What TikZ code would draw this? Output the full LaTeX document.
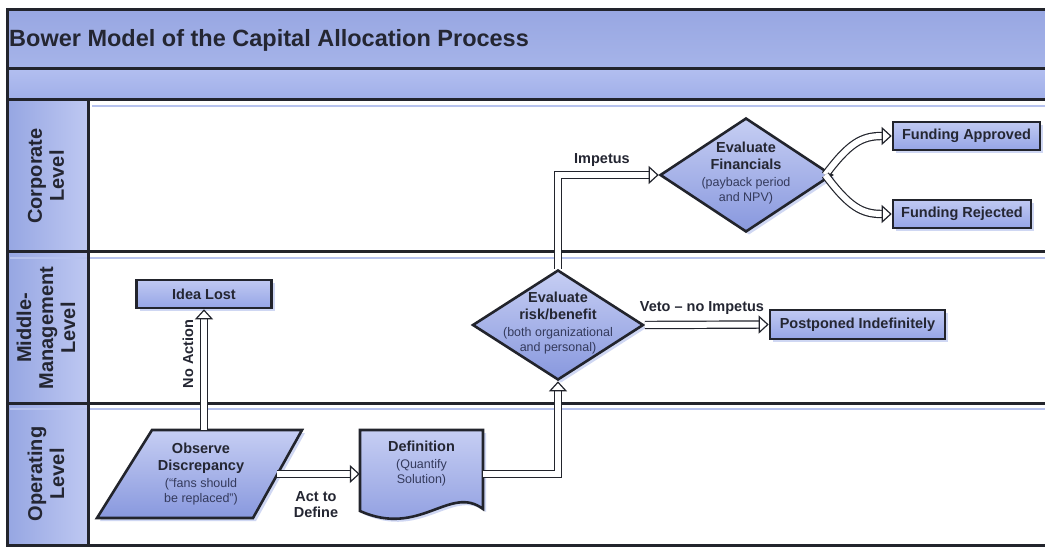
\documentclass[tikz,border=0pt]{standalone}
\usepackage{fontspec}
\setmainfont{Liberation Sans}
\usetikzlibrary{arrows.meta,shapes.geometric,shadows}

\definecolor{frameC}{RGB}{34,36,44}
\definecolor{inkC}{RGB}{36,38,50}
\definecolor{subInk}{RGB}{52,58,92}
\definecolor{nodeTop}{RGB}{198,206,243}
\definecolor{nodeBot}{RGB}{136,152,222}
\definecolor{boxTop}{RGB}{192,201,242}
\definecolor{boxBot}{RGB}{150,165,230}
\definecolor{bandTop}{RGB}{152,167,226}
\definecolor{bandMid}{RGB}{184,195,240}
\definecolor{bandBot}{RGB}{166,180,233}
\definecolor{subTop}{RGB}{178,190,240}
\definecolor{subBot}{RGB}{160,175,232}
\definecolor{laneL}{RGB}{150,166,226}
\definecolor{laneR}{RGB}{190,200,242}
\definecolor{ruleC}{RGB}{182,194,238}
\definecolor{shadowC}{RGB}{196,205,240}

\newcommand\boldtxt{\fontsize{14.5}{17}\selectfont\bfseries}
\newcommand\smalltxt{\fontsize{12.5}{15}\selectfont\mdseries\color{subInk}}

\begin{document}
\begin{tikzpicture}[x=1pt,y=-1pt,
  frame/.style={draw=frameC, line width=3pt},
  softrule/.style={draw=ruleC, line width=1.6pt},
  blueshadow/.style={drop shadow={shadow xshift=3pt, shadow yshift=-3pt, fill=shadowC, opacity=0.8}},
  shapebox/.style={draw=frameC, line width=2.6pt, line join=miter, top color=nodeTop, bottom color=nodeBot, blueshadow},
  endbox/.style={draw=frameC, line width=2.6pt, top color=boxTop, bottom color=boxBot, blueshadow,
    inner sep=0pt, font=\boldtxt, text=inkC},
  dshape/.style={shapebox, diamond, inner sep=0pt},
  ghost/.style={inner sep=0pt, align=center, font=\boldtxt, text=inkC},
  lbl/.style={inner sep=1pt, font=\boldtxt, text=inkC},
  lane/.style={inner sep=0pt, align=center, rotate=90, text=inkC,
    font=\fontsize{20}{22}\selectfont\bfseries},
  hollow/.style={draw=frameC, line width=1.2pt, double=white, double distance=6pt,
    -{Triangle[fill=white, length=10pt, width=18pt, line width=1.2pt]}}
]
\useasboundingbox (0,0) rectangle (1045,548);
\fill[white] (0,0) rectangle (1045,548);

% header bands and lane label column
\shade[top color=bandTop, middle color=bandMid, bottom color=bandBot] (7,10) rectangle (1045,69);
\shade[top color=subTop, bottom color=subBot] (7,69) rectangle (1045,100);
\shade[left color=laneL, right color=laneR] (7,100) rectangle (88,545);

% faint rules under the lane dividers
\draw[softrule] (92,106) -- (1045,106);
\draw[softrule] (10,258) -- (1045,258);
\draw[softrule] (10,409) -- (1045,409);

% frame
\draw[frame] (1045,10) -- (7,10) -- (7,545) -- (1045,545);
\draw[frame] (7,69) -- (1045,69);
\draw[frame] (7,100) -- (1045,100);
\draw[frame] (7,252) -- (1045,252);
\draw[frame] (7,403) -- (1045,403);
\draw[frame] (88,100) -- (88,545);

% title and lane names
\node[anchor=west, inner sep=0pt, text=inkC, font=\fontsize{23.5}{27}\selectfont\bfseries]
  (title) at (9,40) {Bower Model of the Capital Allocation Process};
\node[lane] (lcorp) at (46,176) {Corporate\\Level};
\node[lane] (lmid) at (46,328) {Middle-\\Management\\Level};
\node[lane] (lop) at (46,474) {Operating\\Level};

% outcome boxes
\node[endbox, minimum width=135, minimum height=28] (idea) at (204,294) {Idea Lost};
\node[endbox, minimum width=175, minimum height=29] (post) at (857.5,324.5) {Postponed Indefinitely};
\node[endbox, minimum width=147, minimum height=28] (appr) at (966.5,136) {Funding Approved};
\node[endbox, minimum width=138, minimum height=28] (rej) at (962,214) {Funding Rejected};

% observe discrepancy (parallelogram)
\path[shapebox] (152,430) -- (302,430) -- (253,518) -- (97,518) -- cycle;
\node[ghost, minimum width=152, minimum height=88] (obs) at (201,474)
  {Observe\\Discrepancy\\{\smalltxt (“fans should}\\[-2pt]{\smalltxt be replaced”)}};

% definition (document shape)
\path[shapebox] (360,430) -- (483,430) -- (483,509)
  .. controls (450,484) and (420,538) .. (360,511) -- cycle;
\node[ghost, minimum width=123, minimum height=88] (def) at (421.5,474) {};
\node[ghost] (deftxt) at (421.5,464) {Definition\\{\smalltxt (Quantify}\\[-2pt]{\smalltxt Solution)}};

% decisions
\node[dshape, minimum width=171, minimum height=110] (risk) at (558,325) {};
\node[ghost] (risktxt) at (558,323)
  {Evaluate\\risk/benefit\\{\smalltxt (both organizational}\\[-2pt]{\smalltxt and personal)}};
\node[dshape, minimum width=172, minimum height=114] (fin) at (746,175) {};
\node[ghost] (fintxt) at (746,173)
  {Evaluate\\Financials\\{\smalltxt (payback period}\\[-2pt]{\smalltxt and NPV)}};

% connectors
\draw[hollow] (idea.south |- obs.north) -- (idea.south);
\draw[hollow] (obs.east) -- (def.west);
\draw[hollow] (def.east) -| (risk.south);
\draw[hollow] (risk.north) |- (fin.west);
\draw[hollow] (risk.east) -- (post.west);
\draw[hollow] ([xshift=-8pt]fin.east) .. controls +(24,-32) and +(-30,0) .. (appr.west);
\draw[hollow] ([xshift=-8pt]fin.east) .. controls +(24,32) and +(-30,0) .. (rej.west);

% connector labels
\node[lbl, rotate=90] (lblno) at (188,354) {No Action};
\node[lbl, align=center, font=\fontsize{14.5}{16}\selectfont\bfseries] (lblact) at (316,505) {Act to\\Define};
\node[lbl] (lblimp) at (602,160) {Impetus};
\node[lbl] (lblveto) at (702,308) {Veto – no Impetus};
\end{tikzpicture}
\end{document}
